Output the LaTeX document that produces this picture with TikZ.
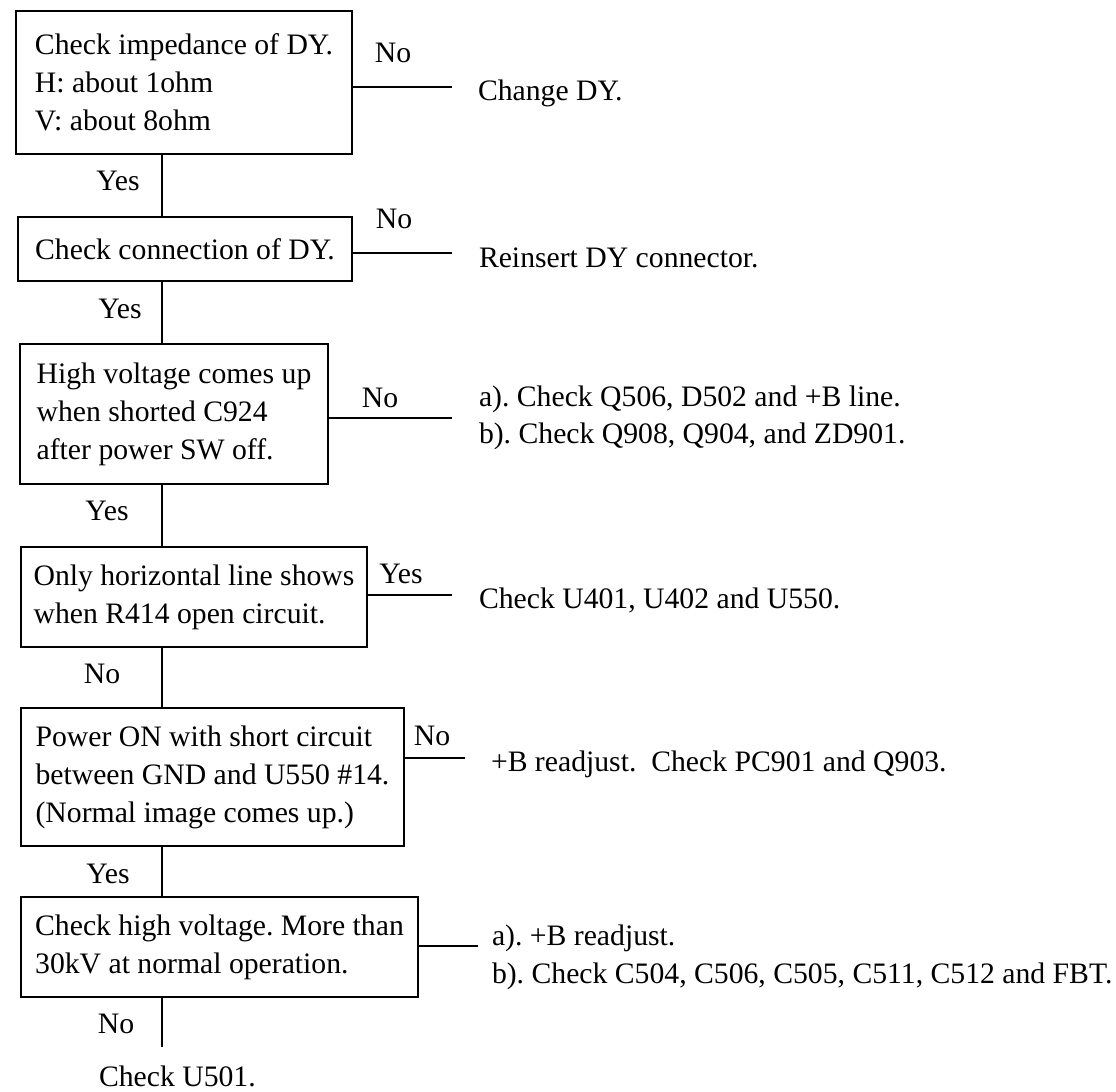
\documentclass[tikz,border=0pt]{standalone}
\usepackage{fontspec}
\setmainfont{Liberation Serif}
\begin{document}
\frenchspacing
\begin{tikzpicture}[x=0.5pt,y=-0.5pt, line width=1pt,
  every node/.style={font=\fontsize{14.85pt}{19pt}\selectfont\frenchspacing},
  box/.style={draw, rectangle, anchor=north west, align=left, inner sep=0pt},
  lbl/.style={anchor=base, inner sep=0pt},
  res/.style={anchor=base west, inner sep=0pt}]
\useasboundingbox (0,0) rectangle (1116,1092);
% boxes
\node[box, minimum width=168pt, minimum height=71.5pt] (b1) at (15,10)
  {Check impedance of DY.\\H: about 1ohm\\V: about 8ohm};
\node[box, minimum width=167pt, minimum height=32pt] (b2) at (17,216)
  {Check connection of DY.};
\node[box, minimum width=154pt, minimum height=70pt] (b3) at (19,343)
  {High voltage comes up\\when shorted C924\\after power SW off.};
\node[box, minimum width=173pt, minimum height=50pt] (b4) at (20,546)
  {Only horizontal line shows\\when R414 open circuit.};
\node[box, minimum width=191.5pt, minimum height=69pt] (b5) at (20,707)
  {Power ON with short circuit\\between GND and U550 \#14.\\(Normal image comes up.)};
\node[box, minimum width=198.5pt, minimum height=50pt] (b6) at (20,896)
  {Check high voltage. More than\\30kV at normal operation.};
% vertical spine
\coordinate (sp) at (162,0);
\coordinate (endv) at (162,1047);
\draw (b1.south -| sp) -- (b2.north -| sp);
\draw (b2.south -| sp) -- (b3.north -| sp);
\draw (b3.south -| sp) -- (b4.north -| sp);
\draw (b4.south -| sp) -- (b5.north -| sp);
\draw (b5.south -| sp) -- (b6.north -| sp);
\draw (b6.south -| sp) -- (endv);
% horizontal branches
\coordinate (h1) at (452,87);
\coordinate (h2) at (452,253);
\coordinate (h3) at (452,418);
\coordinate (h4) at (452,595);
\coordinate (h5) at (465,758);
\coordinate (h6) at (478,946);
\draw (b1.east |- h1) -- (h1);
\draw (b2.east |- h2) -- (h2);
\draw (b3.east |- h3) -- (h3);
\draw (b4.east |- h4) -- (h4);
\draw (b5.east |- h5) -- (h5);
\draw (b6.east |- h6) -- (h6);
% yes/no labels
\node[lbl] (n1) at (393,62) {No};
\node[lbl] (y1) at (118,190) {Yes};
\node[lbl] (n2) at (394,228) {No};
\node[lbl] (y2) at (120,318) {Yes};
\node[lbl] (n3) at (380,407) {No};
\node[lbl] (y3) at (107,520) {Yes};
\node[lbl] (y4) at (401,583) {Yes};
\node[lbl] (n4) at (102,683) {No};
\node[lbl] (n5) at (432,745) {No};
\node[lbl] (y5) at (108,883) {Yes};
\node[lbl] (n6) at (116,1033) {No};
% results
\node[res] (r1) at (477,100) {Change DY.};
\node[res] (r2) at (478,267) {Reinsert DY connector.};
\node[res] (r3a) at (478,406) {a). Check Q506, D502 and +B line.};
\node[res] (r3b) at (478,443) {b). Check Q908, Q904, and ZD901.};
\node[res] (r4) at (478,608) {Check U401, U402 and U550.};
\node[res] (r5) at (490,771) {+B readjust.\ \ Check PC901 and Q903.};
\node[res] (r6a) at (491,945) {a). +B readjust.};
\node[res] (r6b) at (491,983) {b). Check C504, C506, C505, C511, C512 and FBT.};
\node[res] (r7) at (98,1086) {Check U501.};
\end{tikzpicture}
\end{document}
